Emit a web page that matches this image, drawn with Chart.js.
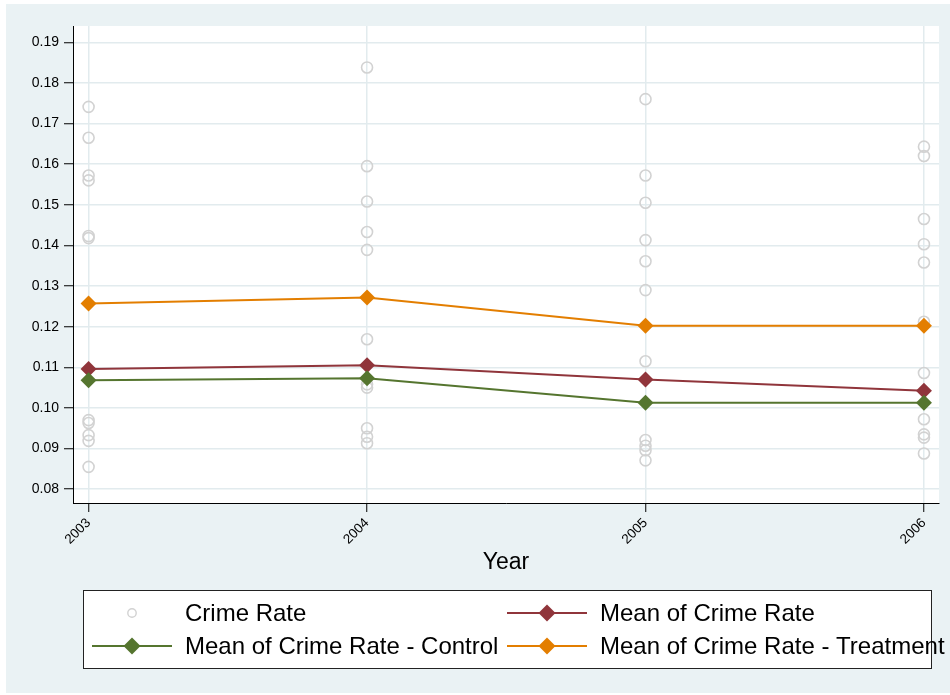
<!DOCTYPE html>
<html>
<head>
<meta charset="utf-8">
<script src="https://cdn.jsdelivr.net/npm/chart.js@4"></script>
<style>
  html, body { margin: 0; padding: 0; background: #ffffff; }
  #wrap { width: 950px; height: 695px; position: relative; }
  canvas { display: block; }
</style>
</head>
<body>
<div id="wrap"><canvas id="chart" width="950" height="695"></canvas></div>
<script>
// ---- data ----
const years = [2003, 2004, 2005, 2006];
const yTicks = [0.08, 0.09, 0.10, 0.11, 0.12, 0.13, 0.14, 0.15, 0.16, 0.17, 0.18, 0.19];

// individual crime rates per year
const rates2003 = [0.1741, 0.1665, 0.1572, 0.1560, 0.1423, 0.1418, 0.0970, 0.0963, 0.0933, 0.0919, 0.0855];
const rates2004 = [0.1838, 0.1595, 0.1508, 0.1433, 0.1389, 0.1169, 0.1058, 0.1050, 0.0950, 0.0929, 0.0913];
const rates2005 = [0.1760, 0.1572, 0.1505, 0.1413, 0.1361, 0.1290, 0.1115, 0.0921, 0.0907, 0.0896, 0.0871];
const rates2006 = [0.1643, 0.1620, 0.1465, 0.1403, 0.1358, 0.1212, 0.1086, 0.0972, 0.0935, 0.0927, 0.0888];

// yearly means
const meanAll       = [0.1096, 0.1105, 0.1070, 0.1042];
const meanControl   = [0.1068, 0.1073, 0.1013, 0.1013];
const meanTreatment = [0.1257, 0.1272, 0.1202, 0.1202];

const seriesNames = ['Crime Rate', 'Mean of Crime Rate', 'Mean of Crime Rate - Control', 'Mean of Crime Rate - Treatment'];
const xTitle = 'Year';

// ---- styling ----
const FONT = '"Liberation Sans", Arial, Helvetica, sans-serif';
const PANEL_BG = '#eaf2f4';
const GRID = '#e2ebee';
const GRAY = '#d2d2d2';
const MAROON = '#90353b';
const GREEN = '#55752f';
const ORANGE = '#e37e00';

const rateSets = [rates2003, rates2004, rates2005, rates2006];
const ratePoints = years.flatMap((yr, i) => rateSets[i].map(v => ({ x: yr, y: v })));
const toPoints = arr => years.map((yr, i) => ({ x: yr, y: arr[i] }));

function diamond(ctx, x, y, r, color) {
  ctx.beginPath();
  ctx.moveTo(x, y - r);
  ctx.lineTo(x + r, y);
  ctx.lineTo(x, y + r);
  ctx.lineTo(x - r, y);
  ctx.closePath();
  ctx.fillStyle = color;
  ctx.fill();
}

// panel background and white plot region
const backdrop = {
  id: 'backdrop',
  beforeDraw(chart) {
    const { ctx, chartArea: a } = chart;
    ctx.save();
    ctx.fillStyle = '#ffffff';
    ctx.fillRect(0, 0, chart.width, chart.height);
    ctx.fillStyle = PANEL_BG;
    ctx.fillRect(6, 4, chart.width - 6, chart.height - 6);
    ctx.fillStyle = '#ffffff';
    ctx.fillRect(a.left, a.top, a.right - a.left, a.bottom - a.top);
    ctx.restore();
  }
};

// two-column boxed legend below the x axis
const boxLegend = {
  id: 'boxLegend',
  afterDraw(chart) {
    const { ctx } = chart;
    const ds = chart.data.datasets;
    const box = { x: 83, y: 590, w: 848, h: 78 };
    ctx.save();
    ctx.fillStyle = '#ffffff';
    ctx.fillRect(box.x, box.y, box.w, box.h);
    ctx.strokeStyle = '#222222';
    ctx.lineWidth = 1;
    ctx.strokeRect(box.x + 0.5, box.y + 0.5, box.w, box.h);

    const cols = [{ line0: 92, line1: 172, text: 185 }, { line0: 507, line1: 587, text: 600 }];
    const rows = [613, 646];
    const slots = [[0, 0], [0, 1], [1, 0], [1, 1]];
    ds.forEach((d, i) => {
      const [r, c] = slots[i];
      const col = cols[c];
      const y = rows[r];
      const mid = (col.line0 + col.line1) / 2;
      if (d.showLine) {
        ctx.strokeStyle = d.borderColor;
        ctx.lineWidth = 2;
        ctx.beginPath();
        ctx.moveTo(col.line0, y);
        ctx.lineTo(col.line1, y);
        ctx.stroke();
        diamond(ctx, mid, y, 8.5, d.borderColor);
      } else {
        ctx.strokeStyle = d.borderColor;
        ctx.lineWidth = 1.4;
        ctx.beginPath();
        ctx.arc(mid, y, 4.2, 0, Math.PI * 2);
        ctx.stroke();
      }
      ctx.fillStyle = '#000000';
      ctx.font = '24px ' + FONT;
      ctx.textAlign = 'left';
      ctx.textBaseline = 'middle';
      ctx.fillText(d.label, col.text, y + 1);
    });
    ctx.restore();
  }
};

new Chart(document.getElementById('chart'), {
  type: 'scatter',
  data: {
    datasets: [
      {
        label: seriesNames[0],
        data: ratePoints,
        showLine: false,
        pointStyle: 'circle',
        pointRadius: 5.5,
        pointBorderWidth: 1.6,
        borderColor: GRAY,
        pointBorderColor: GRAY,
        pointBackgroundColor: 'rgba(0,0,0,0)',
        order: 4
      },
      {
        label: seriesNames[1],
        data: toPoints(meanAll),
        showLine: true,
        borderColor: MAROON,
        backgroundColor: MAROON,
        borderWidth: 2,
        pointStyle: 'rectRot',
        pointRadius: 8,
        pointBorderWidth: 0,
        tension: 0,
        order: 3
      },
      {
        label: seriesNames[2],
        data: toPoints(meanControl),
        showLine: true,
        borderColor: GREEN,
        backgroundColor: GREEN,
        borderWidth: 2,
        pointStyle: 'rectRot',
        pointRadius: 8,
        pointBorderWidth: 0,
        tension: 0,
        order: 2
      },
      {
        label: seriesNames[3],
        data: toPoints(meanTreatment),
        showLine: true,
        borderColor: ORANGE,
        backgroundColor: ORANGE,
        borderWidth: 2,
        pointStyle: 'rectRot',
        pointRadius: 8,
        pointBorderWidth: 0,
        tension: 0,
        order: 1
      }
    ]
  },
  options: {
    responsive: false,
    animation: false,
    events: [],
    layout: { padding: { left: 0, top: 26, right: 11, bottom: 102 } },
    plugins: {
      legend: { display: false },
      tooltip: { enabled: false }
    },
    scales: {
      x: {
        type: 'linear',
        position: 'bottom',
        min: 2002.944,
        max: 2006.054,
        afterBuildTicks: s => { s.ticks = years.map(v => ({ value: v })); },
        afterFit: s => { s.height = 90; s.paddingLeft = 0; s.paddingRight = 0; },
        ticks: {
          autoSkip: false,
          maxRotation: 45,
          minRotation: 45,
          padding: 3,
          color: '#000000',
          font: { family: FONT, size: 13.5 },
          callback: v => String(v)
        },
        grid: { color: GRID, lineWidth: 1.5, tickColor: '#000000', tickWidth: 1, tickLength: 9 },
        border: { color: '#000000', width: 1 },
        title: {
          display: true,
          text: xTitle,
          color: '#000000',
          font: { family: FONT, size: 23 },
          padding: { top: 0, bottom: 17 }
        }
      },
      y: {
        type: 'linear',
        position: 'left',
        min: 0.0766,
        max: 0.194,
        afterBuildTicks: s => { s.ticks = yTicks.map(v => ({ value: v })); },
        afterFit: s => { s.width = 73; },
        ticks: {
          padding: 5,
          color: '#000000',
          font: { family: FONT, size: 14 },
          callback: v => Number(v).toFixed(2)
        },
        grid: { color: GRID, lineWidth: 1.5, tickColor: '#000000', tickWidth: 1, tickLength: 9 },
        border: { color: '#000000', width: 1 }
      }
    }
  },
  plugins: [backdrop, boxLegend]
});
</script>
</body>
</html>
